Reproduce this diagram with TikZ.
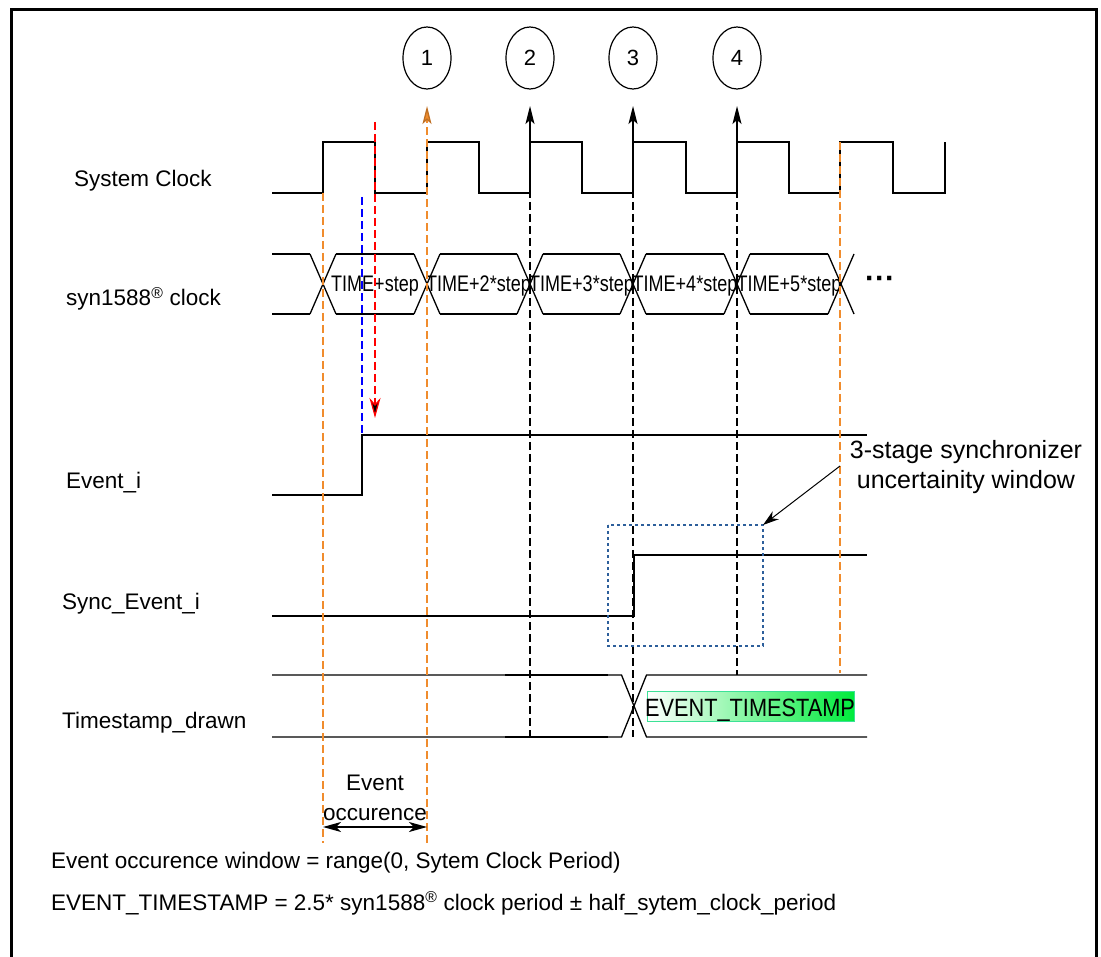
\documentclass[tikz,border=0pt]{standalone}
\usepackage{fontspec}
\setmainfont{Liberation Sans}
\usetikzlibrary{arrows.meta,shapes.geometric}
\definecolor{dorange}{RGB}{240,140,45}
\definecolor{rectblue}{RGB}{45,95,155}
\definecolor{tsgreen}{RGB}{0,235,60}
\definecolor{tsborder}{RGB}{60,225,150}
\begin{document}
\begin{tikzpicture}[x=1pt,y=-1pt,
  wave/.style={line width=1.3pt, black},
  vdash/.style={line width=1.3pt, dash pattern=on 8pt off 4pt},
  txt/.style={font=\fontsize{22.5}{26}\selectfont, inner sep=0},
  lab/.style={txt, anchor=base west},
  bustxt/.style={txt, anchor=base},
  bigtxt/.style={font=\fontsize{25}{30}\selectfont, inner sep=0, anchor=base},
  num/.style={draw, line width=1.2pt, ellipse, minimum width=48pt, minimum height=62pt, inner sep=0, font=\fontsize{22}{26}\selectfont},
  uptip/.style={-{Stealth[length=18pt,width=9pt,inset=4pt]}},
]
\useasboundingbox (0,0) rectangle (1101,957);
% frame
\draw[line width=3pt] (11,960) -- (11,10) -- (1096,10) -- (1096,960);

% labels
\node[lab] (lclk) at (74,187) {System Clock};
\node[lab] (lsyn) at (66,306) {syn1588\textsuperscript{®} clock};
\node[lab] (levt) at (66,489) {Event\_i};
\node[lab] (lsev) at (62,609) {Sync\_Event\_i};
\node[lab] (lts) at (62,728) {Timestamp\_drawn};

% numbered circles
\node[num] (c1) at (427,58) {1};
\node[num] (c2) at (530,58) {2};
\node[num] (c3) at (633,58) {3};
\node[num] (c4) at (737,58) {4};

% system clock
\draw[wave] (272,193) -- (323,193) -- (323,142) -- (375,142) -- (375,193) -- (427,193) -- (427,142) -- (479,142) -- (479,193) -- (530,193) -- (530,142) -- (582,142) -- (582,193) -- (633,193) -- (633,142) -- (686,142) -- (686,193) -- (737,193) -- (737,142) -- (789,142) -- (789,193) -- (840,193) -- (840,142) -- (893,142) -- (893,193) -- (945,193) -- (945,142);

% syn1588 bus
\foreach \c in {323,427,530,633,737,841} {
  \draw[wave] (\c-13,254) -- (\c+13,314);
  \draw[wave] (\c-13,314) -- (\c+13,254);
}
\foreach \a/\b in {272/310, 336/414, 440/517, 543/620, 646/724, 750/828} {
  \draw[wave] (\a,254) -- (\b,254);
  \draw[wave] (\a,314) -- (\b,314);
}
\node[bustxt] (s1) at (375,292) {\scalebox{0.8}[1]{TIME+step}};
\node[bustxt] (s2) at (478.5,292) {\scalebox{0.8}[1]{TIME+2*step}};
\node[bustxt] (s3) at (581.5,292) {\scalebox{0.8}[1]{TIME+3*step}};
\node[bustxt] (s4) at (685,292) {\scalebox{0.8}[1]{TIME+4*step}};
\node[bustxt] (s5) at (789,292) {\scalebox{0.8}[1]{TIME+5*step}};
\node[inner sep=0, font=\fontsize{30}{30}\selectfont\bfseries, anchor=base] (dots) at (880,289) {···};

% Event_i
\draw[wave] (272,495) -- (362,495) -- (362,435) -- (867,435);
% Sync_Event_i
\draw[wave] (272,616) -- (634,616) -- (634,555) -- (867,555);
% Timestamp bus
\draw[wave] (272,675) -- (621.5,675) -- (646.5,737) -- (867,737);
\draw[wave] (272,737) -- (621.5,737) -- (646.5,675) -- (867,675);
\draw[line width=2pt] (505,675) -- (608,675) (505,737) -- (608,737);
\shade[left color=white, middle color=cyan!22, right color=tsgreen] (647,691) rectangle (854,721);
\draw[tsborder, line width=1pt] (647,691) rectangle (854,721);
\node[bigtxt] (ts) at (750,716) {\scalebox{0.87}[1]{EVENT\_TIMESTAMP}};

% vertical markers
\draw[vdash, dorange] (323,193) -- (323,843);
\draw[vdash, dorange, -{Stealth[length=18pt,width=9pt,inset=4pt,color=dorange!80!black,fill=dorange]}] (427,843) -- (427,106);
\draw[vdash, dorange] (840,142) -- (840,673);
\draw[vdash, blue] (362,197) -- (362,435);
\draw[vdash, red, -{Stealth[length=20pt,width=11pt,inset=6pt,color=red,fill=black]}] (375,122) -- (375,418);
\draw[vdash] (530,142) -- (530,737);
\draw[vdash] (633,142) -- (633,737);
\draw[vdash] (737,142) -- (737,675);
\draw[line width=1.3pt, uptip] (530,142) -- (530,106);
\draw[line width=1.3pt, uptip] (633,142) -- (633,106);
\draw[line width=1.3pt, uptip] (737,142) -- (737,106);

% synchronizer window
\draw[rectblue, line width=1.3pt, dash pattern=on 3pt off 3pt] (608,525) rectangle (763,646);
\coordinate (rc) at (763,525);
\node[bigtxt] (ann1) at (966,459) {3-stage synchronizer};
\node[bigtxt] (ann2) at (966,489) {uncertainity window};
\coordinate (as) at (840,466);
\draw[line width=1pt, -{Stealth[length=16pt,width=10pt,inset=5pt]}] (as) -- (rc);

% event occurence
\node[txt, anchor=base] (eo1) at (375,790) {Event};
\node[txt, anchor=base] (eo2) at (375,820) {occurence};
\coordinate (eol) at (323,827);
\coordinate (eor) at (427,827);
\draw[line width=1.3pt, {Stealth[length=18pt,width=10pt,inset=5pt]}-{Stealth[length=18pt,width=10pt,inset=5pt]}] (eol) -- (eor);

% formulas
\node[lab] (f1) at (51,868) {Event occurence window = range(0, Sytem Clock Period)};
\node[lab] (f2) at (51,910) {EVENT\_TIMESTAMP = 2.5* syn1588\textsuperscript{®} clock period ± half\_sytem\_clock\_period};
\end{tikzpicture}
\end{document}
